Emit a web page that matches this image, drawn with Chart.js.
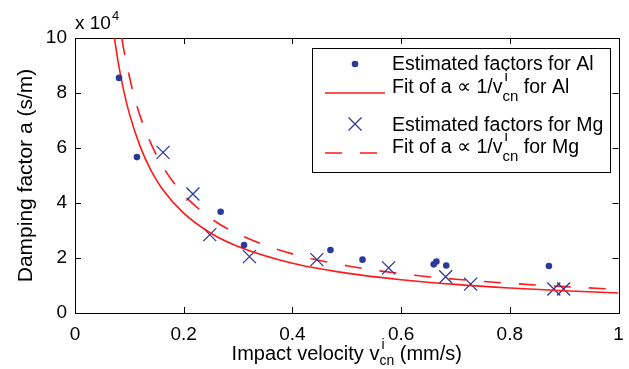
<!DOCTYPE html>
<html>
<head>
<meta charset="utf-8">
<script src="https://cdn.jsdelivr.net/npm/chart.js@4.4.0/dist/chart.umd.min.js"></script>
<style>
  html, body { margin: 0; padding: 0; background: #fff; }
  #box { width: 629px; height: 369px; }
</style>
</head>
<body>
<div id="box"><canvas id="grafico"></canvas></div>
<script>
// estimated damping factors, values in units of 10^4 s/m
var velAl = [0.081, 0.114, 0.268, 0.311, 0.470, 0.529, 0.660, 0.665, 0.683, 0.872];
var fatAl = [8.55, 5.67, 3.68, 2.47, 2.29, 1.94, 1.77, 1.87, 1.73, 1.71];
var velMg = [0.162, 0.217, 0.248, 0.321, 0.445, 0.577, 0.682, 0.728, 0.881, 0.899];
var fatMg = [5.84, 4.33, 2.85, 2.05, 1.94, 1.64, 1.32, 1.05, 0.87, 0.87];

// fitted curves
var velFitAl = [0.0725, 0.08, 0.09, 0.10, 0.12, 0.14, 0.16, 0.20, 0.25, 0.30, 0.40, 0.50, 0.60, 0.70, 0.80, 0.90, 1.00];
var fitAl = [10.0, 9.05, 8.05, 7.25, 6.05, 5.18, 4.53, 3.63, 2.90, 2.42, 1.81, 1.45, 1.21, 1.04, 0.91, 0.81, 0.725];
var velFitMg = [0.086, 0.09, 0.10, 0.11, 0.12, 0.14, 0.16, 0.18, 0.20, 0.25, 0.30, 0.40, 0.50, 0.60, 0.70, 0.80, 0.90, 1.00];
var fitMg = [10.0, 9.55, 8.60, 7.80, 7.15, 6.15, 5.38, 4.78, 4.30, 3.44, 2.87, 2.15, 1.72, 1.43, 1.23, 1.08, 0.96, 0.86];

var xTicks = [0, 0.2, 0.4, 0.6, 0.8, 1];
var xLabels = ['0', '0.2', '0.4', '0.6', '0.8', '1'];
var yTicks = [0, 2, 4, 6, 8, 10];
var yLabels = ['0', '2', '4', '6', '8', '10'];

var FONTE = '"Liberation Sans", Arial, Helvetica, sans-serif';
var AZUL = '#2b3a97';
var VERMELHO = 'rgb(255, 25, 25)';

function pares(xs, ys) {
    return xs.map(function(x, i) { return { x: x, y: ys[i] }; });
}

// text with a superscript and subscript stacked after "antes"
function largura(ctx, antes, sup, sub, depois, tam, tamPeq) {
    ctx.font = tam + 'px ' + FONTE;
    var w = ctx.measureText(antes).width + ctx.measureText(depois).width;
    ctx.font = tamPeq + 'px ' + FONTE;
    return w + Math.max(ctx.measureText(sup).width, ctx.measureText(sub).width);
}

function textoIndices(ctx, x, y, antes, sup, sub, depois, tam, tamPeq, subir, descer) {
    ctx.textAlign = 'left';
    ctx.textBaseline = 'alphabetic';
    ctx.font = tam + 'px ' + FONTE;
    ctx.fillText(antes, x, y);
    x += ctx.measureText(antes).width;
    ctx.font = tamPeq + 'px ' + FONTE;
    var wSup = ctx.measureText(sup).width, wSub = ctx.measureText(sub).width;
    ctx.fillText(sup, x + 2, y - subir);
    ctx.fillText(sub, x, y + descer);
    x += Math.max(wSup, wSub);
    ctx.font = tam + 'px ' + FONTE;
    ctx.fillText(depois, x, y);
}

var moldura = {
    id: 'moldura',
    beforeDatasetsDraw: function(chart) {
        var ctx = chart.ctx, a = chart.chartArea;
        var sx = chart.scales.x, sy = chart.scales.y;
        ctx.save();
        ctx.strokeStyle = '#000';
        ctx.lineWidth = 1;
        ctx.strokeRect(Math.round(a.left) + 0.5, Math.round(a.top) + 0.5,
            Math.round(a.right - a.left), Math.round(a.bottom - a.top));
        ctx.beginPath();
        xTicks.forEach(function(t) {
            var px = Math.round(sx.getPixelForValue(t)) + 0.5;
            ctx.moveTo(px, a.bottom); ctx.lineTo(px, a.bottom - 6);
            ctx.moveTo(px, a.top); ctx.lineTo(px, a.top + 6);
        });
        yTicks.forEach(function(t) {
            var py = Math.round(sy.getPixelForValue(t)) + 0.5;
            ctx.moveTo(a.left, py); ctx.lineTo(a.left + 6, py);
            ctx.moveTo(a.right, py); ctx.lineTo(a.right - 6, py);
        });
        ctx.stroke();
        ctx.restore();
    },
    afterDraw: function(chart) {
        var ctx = chart.ctx, a = chart.chartArea;
        ctx.save();
        ctx.fillStyle = '#000';

        // exponent above the y axis
        ctx.font = '19px ' + FONTE;
        ctx.textBaseline = 'alphabetic';
        ctx.fillText('x 10', a.left, 29);
        var wx = ctx.measureText('x 10').width;
        ctx.font = '13px ' + FONTE;
        ctx.fillText('4', a.left + wx + 1, 20);

        // x axis title
        var w = largura(ctx, 'Impact velocity v', 'i', 'cn', ' (mm/s)', 20, 14);
        var cx = (a.left + a.right) / 2;
        textoIndices(ctx, cx - w / 2, 360, 'Impact velocity v', 'i', 'cn', ' (mm/s)', 20, 14, 11, 5);

        // legend
        var lx = 312.5, ly = 48.5, lw = 298, lh = 124;
        ctx.fillStyle = '#fff';
        ctx.fillRect(lx, ly, lw, lh);
        ctx.strokeStyle = '#000';
        ctx.lineWidth = 1;
        ctx.strokeRect(lx, ly, lw, lh);

        ctx.fillStyle = AZUL;
        ctx.beginPath();
        ctx.arc(355, 64, 3.3, 0, Math.PI * 2);
        ctx.fill();

        ctx.strokeStyle = AZUL;
        ctx.lineWidth = 1.3;
        ctx.beginPath();
        ctx.moveTo(348.5, 117.5); ctx.lineTo(361.5, 130.5);
        ctx.moveTo(361.5, 117.5); ctx.lineTo(348.5, 130.5);
        ctx.stroke();

        ctx.strokeStyle = VERMELHO;
        ctx.lineWidth = 1.6;
        ctx.beginPath();
        ctx.moveTo(325, 93); ctx.lineTo(385, 93);
        ctx.stroke();
        ctx.setLineDash([17, 18]);
        ctx.beginPath();
        ctx.moveTo(325, 153); ctx.lineTo(377, 153);
        ctx.stroke();
        ctx.setLineDash([]);

        ctx.fillStyle = '#000';
        ctx.font = '19.5px ' + FONTE;
        ctx.textAlign = 'left';
        ctx.fillText('Estimated factors for Al', 392, 70);
        ctx.fillText('Estimated factors for Mg', 392, 131);
        textoIndices(ctx, 392, 93, 'Fit of a \u221D 1/v', 'i', 'cn', ' for Al', 19.5, 15, 12, 8);
        textoIndices(ctx, 392, 153, 'Fit of a \u221D 1/v', 'i', 'cn', ' for Mg', 19.5, 15, 12, 8);
        ctx.restore();
    }
};

var ctx = document.getElementById('grafico').getContext('2d');
var grafico = new Chart(ctx, {
    type: 'scatter',
    data: {
        datasets: [{
            label: 'Estimated factors for Al',
            data: pares(velAl, fatAl),
            pointStyle: 'circle',
            pointRadius: 3.3,
            pointBorderWidth: 0,
            backgroundColor: AZUL,
            borderColor: AZUL
        },
        {
            label: 'Fit of a ∝ 1/v for Al',
            data: pares(velFitAl, fitAl),
            showLine: true,
            pointRadius: 0,
            borderColor: VERMELHO,
            borderWidth: 1.6,
            cubicInterpolationMode: 'monotone'
        },
        {
            label: 'Estimated factors for Mg',
            data: pares(velMg, fatMg),
            pointStyle: 'crossRot',
            pointRadius: 9.2,
            pointBorderWidth: 1.3,
            borderColor: AZUL,
            backgroundColor: AZUL
        },
        {
            label: 'Fit of a ∝ 1/v for Mg',
            data: pares(velFitMg, fitMg),
            showLine: true,
            pointRadius: 0,
            borderColor: VERMELHO,
            borderWidth: 1.6,
            borderDash: [17, 18],
            cubicInterpolationMode: 'monotone'
        }]
    },
    options: {
        responsive: true,
        maintainAspectRatio: false,
        animation: false,
        layout: { padding: { left: 0, top: 38, right: 9, bottom: 0 } },
        plugins: {
            legend: { display: false },
            tooltip: { enabled: false }
        },
        scales: {
            x: {
                type: 'linear',
                min: 0,
                max: 1,
                afterFit: function(s) { s.height = 56; s.paddingLeft = 0; s.paddingRight = 0; },
                afterBuildTicks: function(s) { s.ticks = xTicks.map(function(v) { return { value: v }; }); },
                grid: { display: false, drawTicks: false },
                border: { display: false },
                ticks: {
                    color: '#000',
                    padding: 10,
                    maxRotation: 0,
                    font: { family: FONTE, size: 19 },
                    callback: function(v, i) { return xLabels[i]; }
                }
            },
            y: {
                type: 'linear',
                min: 0,
                max: 10,
                afterFit: function(s) { s.width = 75; s.paddingTop = 0; s.paddingBottom = 0; },
                afterBuildTicks: function(s) { s.ticks = yTicks.map(function(v) { return { value: v }; }); },
                grid: { display: false, drawTicks: false },
                border: { display: false },
                title: {
                    display: true,
                    text: 'Damping factor a (s/m)',
                    color: '#000',
                    font: { family: FONTE, size: 21 },
                    padding: { top: 14, bottom: 0 }
                },
                ticks: {
                    color: '#000',
                    padding: 8,
                    font: { family: FONTE, size: 19 },
                    callback: function(v, i) { return yLabels[i]; }
                }
            }
        }
    },
    plugins: [moldura]
});
</script>
</body>
</html>
